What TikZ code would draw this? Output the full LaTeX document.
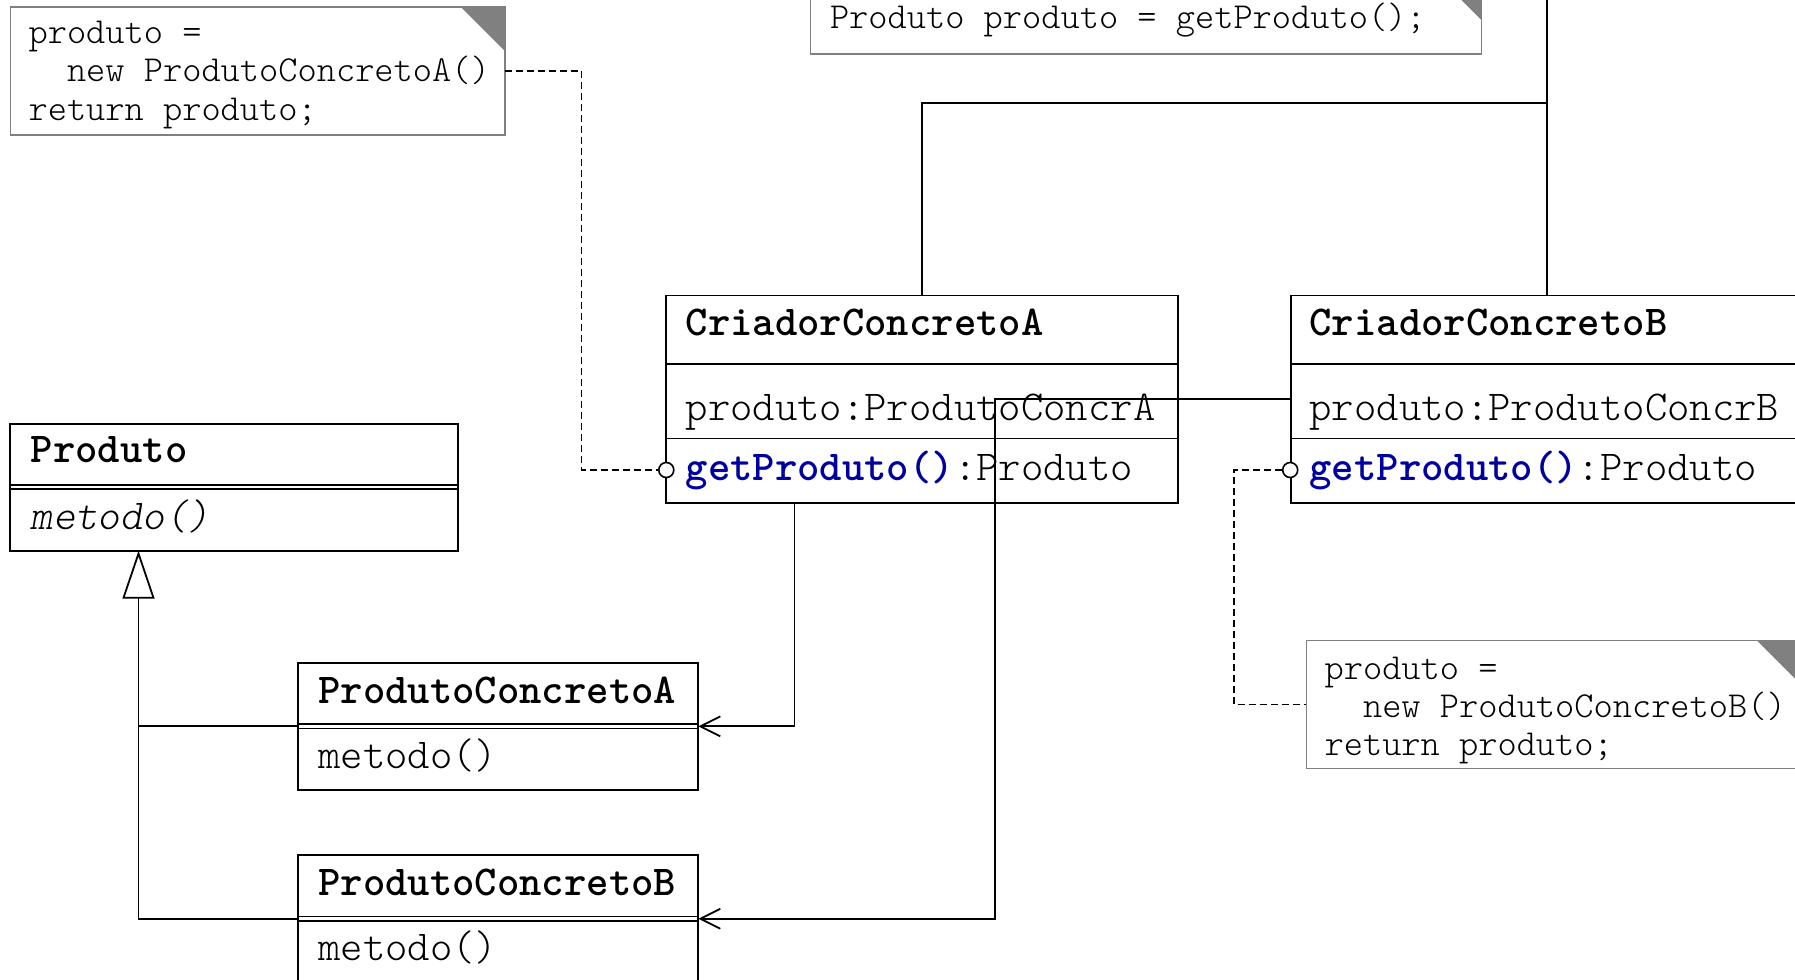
\documentclass[tikz,border=0pt]{standalone}
\usepackage{fontspec}
\newfontfamily\cmono{lmmonolt10-regular.otf}[BoldFont=lmmonolt10-bold.otf,ItalicFont=lmmonolt10-oblique.otf]
\usetikzlibrary{arrows.meta,calc}
\definecolor{opblue}{RGB}{0,0,160}
\definecolor{notegray}{RGB}{128,128,128}
\newcommand{\umlnote}[1]{%
  \draw[notegray,line width=0.7pt] (#1.south west) rectangle (#1.north east);
  \fill[notegray] ($(#1.north east)+(-44,0)$) -- (#1.north east) -- ($(#1.north east)+(0,44)$) -- cycle;
}
\begin{document}
\begin{tikzpicture}[x=0.5pt,y=-0.5pt,
  box/.style={draw=black,line width=0.9pt,inner sep=0pt,outer sep=0pt,rectangle},
  notebox/.style={inner sep=0pt,outer sep=0pt,rectangle,minimum width=247.3pt,minimum height=64pt},
  clstxt/.style={font=\cmono\fontsize{21.3pt}{25pt}\selectfont,anchor=base west,inner sep=0pt,outer sep=0pt},
  ntxt/.style={font=\cmono\fontsize{18.3pt}{22pt}\selectfont,anchor=base west,inner sep=0pt,outer sep=0pt},
  sep/.style={line width=0.9pt},
  conn/.style={line width=0.9pt},
  assoc/.style={line width=0.9pt,-{Straight Barb[length=10pt,width=10pt]}},
  dep/.style={line width=0.8pt,dash pattern=on 3.5pt off 2pt},
  lol/.style={circle,draw=black,fill=white,line width=0.8pt,minimum size=7.5pt,inner sep=0pt}
]
\useasboundingbox (0,0) rectangle (1795,980);
\clip (0,0) rectangle (1795,980);

% notes
\node[notebox] (n1) at (257.6,71) {};
\node[notebox] (n2) at (1553.5,704.5) {};
\node[notebox,minimum width=335.45pt,minimum height=38.9pt] (n0) at (1146,14.9) {};
\umlnote{n1}
\umlnote{n2}
\umlnote{n0}
\node[ntxt] (n1a) at (28.6,43.5) {produto =};
\node[ntxt] (n1b) at (28.6,81.9) {\phantom{xx}new ProdutoConcretoA()};
\node[ntxt] (n1c) at (28.6,120.3) {return produto;};
\node[ntxt] (n0a) at (830,28.6) {Produto produto = getProduto();};
\node[ntxt] (n2a) at (1324.6,679) {produto =};
\node[ntxt] (n2b) at (1324.6,717.4) {\phantom{xx}new ProdutoConcretoB()};
\node[ntxt] (n2c) at (1324.6,755.8) {return produto;};

% classes
\node[box,minimum width=255.85pt,minimum height=103.6pt] (criA) at (922.15,399) {};
\node[box,minimum width=255.85pt,minimum height=103.6pt] (criB) at (1546.6,399) {};
\node[box,minimum width=223.8pt,minimum height=63.55pt] (produto) at (234.1,487.15) {};
\node[box,minimum width=200.35pt,minimum height=63.55pt] (pcA) at (497.95,726.35) {};
\node[box,minimum width=200.35pt,minimum height=63.55pt] (pcB) at (497.95,918.75) {};

\foreach \c in {criA,criB}{
  \draw[sep] ($(\c.north west)+(0,68.6)$) -- ($(\c.north east)+(0,68.6)$);
  \draw[sep] ($(\c.north west)+(0,143.1)$) -- ($(\c.north east)+(0,143.1)$);
}
\foreach \c in {produto,pcA,pcB}{
  \draw[sep] ($(\c.west)+(0,-2.2)$) -- ($(\c.east)+(0,-2.2)$);
  \draw[sep] ($(\c.west)+(0,2.2)$) -- ($(\c.east)+(0,2.2)$);
}

\node[clstxt] (tA1) at (685.7,335.4) {\bfseries CriadorConcretoA};
\node[clstxt] (tA2) at (685.7,420) {produto:ProdutoConcrA};
\node[clstxt] (tA3) at (685.7,480.8) {\textcolor{opblue}{\bfseries getProduto()}:Produto};
\node[clstxt] (tB1) at (1309.6,335.4) {\bfseries CriadorConcretoB};
\node[clstxt] (tB2) at (1309.6,420) {produto:ProdutoConcrB};
\node[clstxt] (tB3) at (1309.6,480.8) {\textcolor{opblue}{\bfseries getProduto()}:Produto};
\node[clstxt] (tP1) at (30.9,462.5) {\bfseries Produto};
\node[clstxt] (tP2) at (30.9,529) {\itshape metodo()};
\node[clstxt] (tPA1) at (318.3,703) {\bfseries ProdutoConcretoA};
\node[clstxt] (tPA2) at (318.3,768) {metodo()};
\node[clstxt] (tPB1) at (318.3,895) {\bfseries ProdutoConcretoB};
\node[clstxt] (tPB2) at (318.3,960.5) {metodo()};

% generalization of creators (to parent above)
\coordinate (jB) at (1546.6,103);
\coordinate (topB) at (1546.6,-20);
\draw[conn] (criA.north) |- (jB);
\draw[conn] (criB.north) -- (topB);

% generalization of products
\coordinate (gen) at (138.5,726.35);
\draw[conn] (pcB.west) -| (gen);
\draw[conn,-{Triangle[length=24pt,width=16pt,fill=white]}] (pcA.west) -| (produto.south -| gen);

% associations
\coordinate (kA) at (794.5,726.35);
\draw[assoc] (criA.south -| kA) |- (pcA.east);
\coordinate (kB) at (994.8,918.75);
\draw[assoc] (criB.west) -| (kB) -- (pcB.east);

% note links
\node[lol] (lolA) at (666.3,470) {};
\node[lol] (lolB) at (1290.2,470) {};
\coordinate (dA) at (581.6,470);
\coordinate (dB) at (1234,704.5);
\draw[dep] (n1.east) -| (dA) -- (lolA);
\draw[dep] (lolB) -| (dB) -- (n2.west);
\end{tikzpicture}
\end{document}
